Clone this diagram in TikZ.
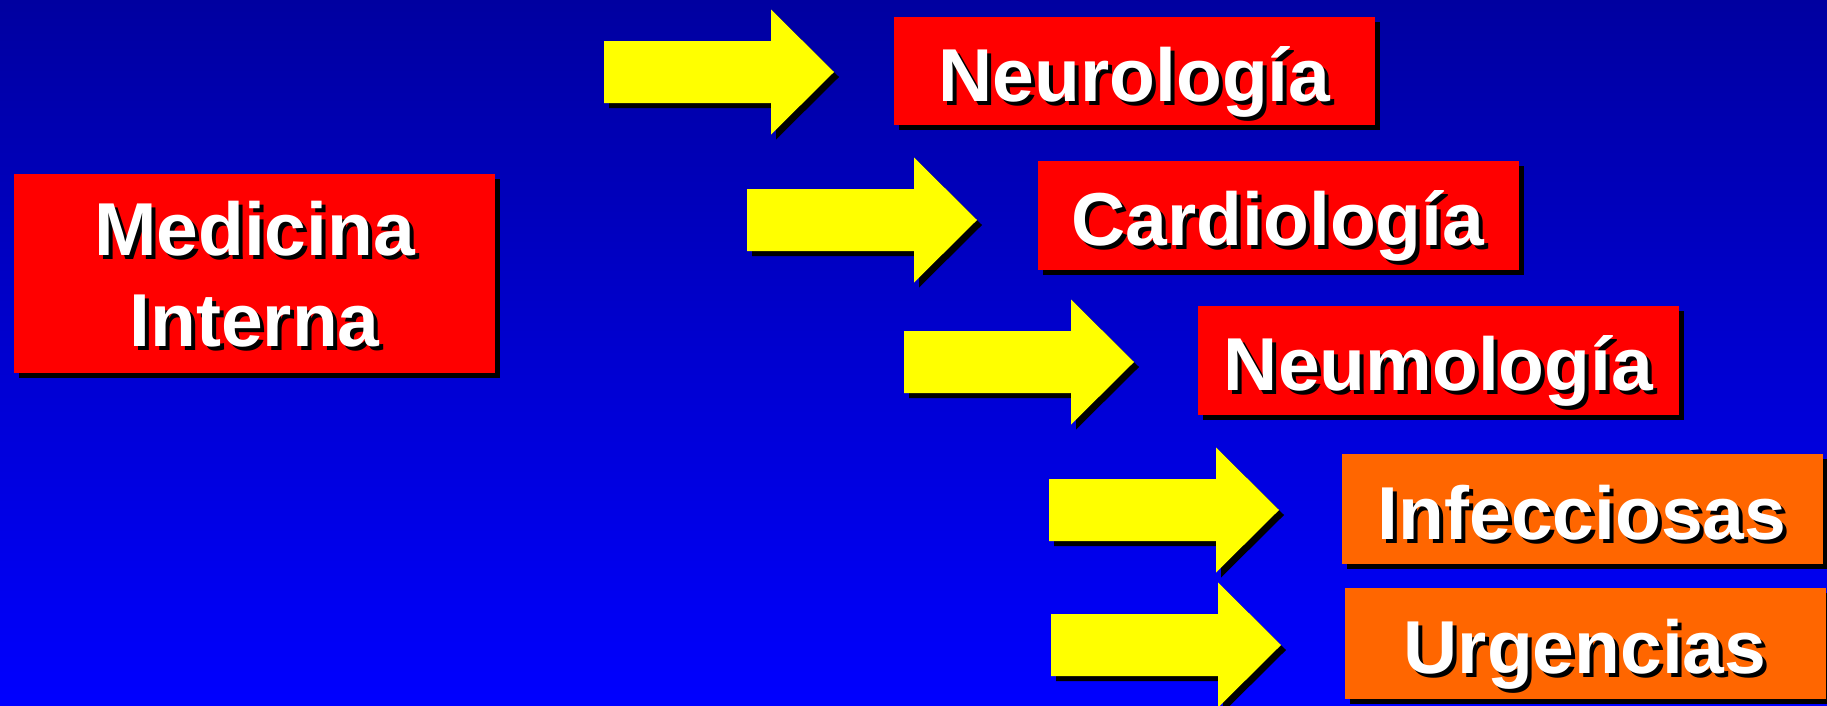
\documentclass[tikz,border=0pt]{standalone}
\usepackage{fontspec}
\setmainfont{Liberation Sans}
\newcommand\shadowed[1]{\rlap{\kern4pt\raisebox{-4pt}{\color{black}#1}}#1}
\begin{document}
\definecolor{bgtop}{HTML}{0000A0}
\definecolor{bgbot}{HTML}{0000FF}
\definecolor{boxred}{HTML}{FF0000}
\definecolor{boxorange}{HTML}{FF6600}
\definecolor{arrowyellow}{HTML}{FFFF00}
\begin{tikzpicture}[x=1pt,y=-1pt,
  panel/.style={rectangle, inner sep=0pt, minimum width=481pt, minimum height=108pt},
  caption/.style={inner sep=0pt, text=white, font=\bfseries\fontsize{75}{91}\selectfont,
                  align=center},
  oneline/.style={caption, text height=54pt, text depth=0pt},
  blockarrow/.style={fill=arrowyellow},
  blockshadow/.style={fill=black}]
  % background
  \shade[top color=bgtop, bottom color=bgbot] (0,0) rectangle (1827,705);
  \useasboundingbox (0,0) rectangle (1827,705);

  % panel with drop shadow: name, centre x, centre y, height, fill
  \newcommand\panelbox[5]{%
    \node[panel, minimum height=#4pt, fill=black] at (#2+5,#3+5) {};
    \node[panel, minimum height=#4pt, fill=#5] (#1) at (#2,#3) {};
  }
  % block arrow with drop shadow: name, shaft left x, axis y
  \newcommand\blockarrow[3]{%
    \coordinate (#1) at (#2,#3);
    \fill[blockshadow] ([shift={(5,5)}]#1) ++(0,-31) -- ++(167,0) -- ++(0,-31.5)
      -- ++(63,62.5) -- ++(-63,62.5) -- ++(0,-31.5) -- ++(-167,0) -- cycle;
    \fill[blockarrow] (#1) ++(0,-31) -- ++(167,0) -- ++(0,-31.5)
      -- ++(63,62.5) -- ++(-63,62.5) -- ++(0,-31.5) -- ++(-167,0) -- cycle;
  }

  \panelbox{medicina}{254.5}{273.5}{199}{boxred}
  \node[caption] (medicina-text) at ([shift={(0,3)}]medicina.center)
    {\shadowed{Medicina}\\\shadowed{Interna}};

  \blockarrow{a1}{604}{72}
  \blockarrow{a2}{747}{220}
  \blockarrow{a3}{904}{362}
  \blockarrow{a4}{1049}{510}
  \blockarrow{a5}{1051}{645}

  \panelbox{neuro}{1134.5}{71}{108}{boxred}
  \panelbox{cardio}{1278}{215.5}{109}{boxred}
  \panelbox{neumo}{1438.5}{360.5}{109}{boxred}
  \panelbox{infec}{1582}{509}{110}{boxorange}
  \panelbox{urgen}{1585}{643.5}{111}{boxorange}

  \node[oneline] (neuro-text)  at ([shift={(0,3)}]neuro.center)  {\shadowed{Neurología}};
  \node[oneline] (cardio-text) at ([shift={(0,3)}]cardio.center) {\shadowed{Cardiología}};
  \node[oneline] (neumo-text)  at ([shift={(0,3)}]neumo.center)  {\shadowed{Neumología}};
  \node[oneline] (infec-text)  at ([shift={(0,3)}]infec.center)  {\shadowed{Infecciosas}};
  \node[oneline] (urgen-text)  at ([shift={(0,3)}]urgen.center)  {\shadowed{Urgencias}};
\end{tikzpicture}
\end{document}
